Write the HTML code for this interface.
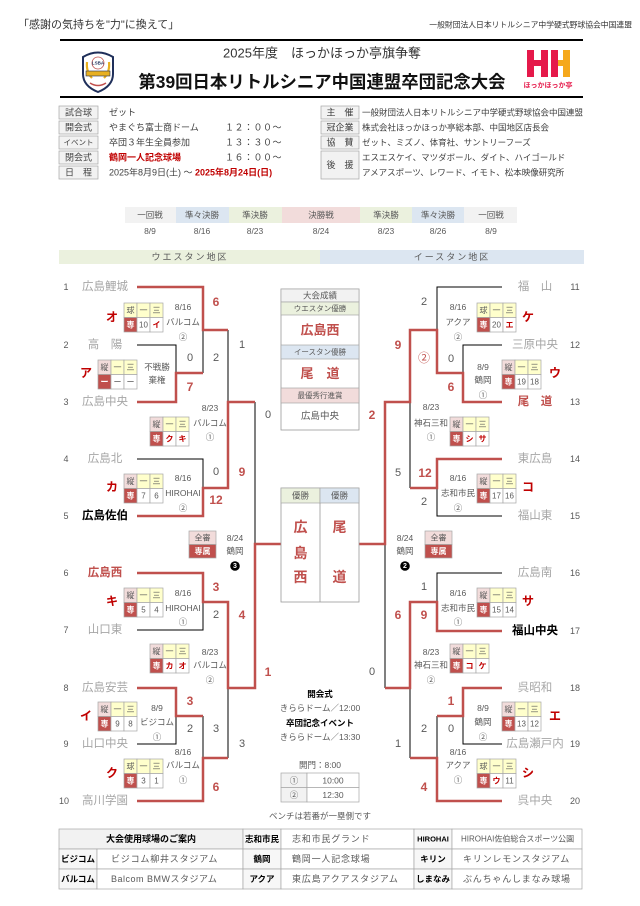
<!DOCTYPE html>
<html><head><meta charset="utf-8">
<style>
html,body{margin:0;padding:0;background:#fff;}
svg{display:block;font-family:"Liberation Sans","Noto Sans CJK JP",sans-serif;}
text{dominant-baseline:central;text-anchor:middle;}
.tm{font-size:11.5px;fill:#a6a6a6}
.tw{font-size:11.5px;fill:#c0504d;font-weight:bold}
.tb{font-size:11.5px;fill:#000;font-weight:bold}
.n{font-size:9px;fill:#595959}
.sr{font-size:12px;fill:#c0504d;font-weight:bold}
.sb{font-size:11px;fill:#595959}
.s{font-size:8.5px;fill:#595959}
.lb{font-size:12px;fill:#c00000;font-weight:bold}
.bx{font-size:8px;fill:#595959}
.bw{font-size:8px;fill:#fff;font-weight:bold}
.br{font-size:8px;fill:#c00000;font-weight:bold}
.r{fill:none;stroke:#c0504d;stroke-width:2.5}
.k{fill:none;stroke:#000;stroke-width:1}
.c{stroke:#a6a6a6;stroke-width:.7}
.y{fill:#ffffcc}
.p{fill:#f2dcdb}
.d{fill:#c0504d}
.w{fill:#fff}
.g{fill:#f2f2f2}
.gr{fill:#ebf1de}
.bl{fill:#dce6f1}
.it{font-size:9px;fill:#404040}
.il{font-size:9px;fill:#404040}
.iv{font-size:8.5px;fill:#404040;text-anchor:start}
.ft{font-size:9px;fill:#595959;text-anchor:start}
.fl{font-size:8.5px;fill:#000;font-weight:bold}
</style></head>
<body>
<svg width="640" height="906" viewBox="0 0 640 906" xmlns="http://www.w3.org/2000/svg">
<!-- Header -->
<text x="18" y="25" style="font-size:11px;fill:#333;text-anchor:start">「感謝の気持ちを"力"に換えて」</text>
<text x="632" y="25" style="font-size:7.8px;fill:#333;text-anchor:end">一般財団法人日本リトルシニア中学硬式野球協会中国連盟</text>
<line x1="60" y1="40" x2="583" y2="40" stroke="#000" stroke-width="2"/>
<text x="322" y="53" style="font-size:13px;fill:#333">2025年度　ほっかほっか亭旗争奪</text>
<text x="322" y="82" style="font-size:17.4px;fill:#111;font-weight:bold">第39回日本リトルシニア中国連盟卒団記念大会</text>
<line x1="60" y1="97" x2="583" y2="97" stroke="#000" stroke-width="2"/>
<!-- left logo -->
<path d="M83 57 Q98 48 113 57 L113 74 Q113 86 98 92 Q83 86 83 74 Z" fill="#fff" stroke="#1f2f5a" stroke-width="2"/>
<circle cx="98" cy="63" r="6" fill="#fff" stroke="#c0504d" stroke-width=".8"/>
<text x="98" y="63" style="font-size:4.5px;fill:#1f2f5a;font-weight:bold">LSBA</text>
<path d="M87 62 Q86 72 92 78 M109 62 Q110 72 104 78" stroke="#e8b020" stroke-width="2.2" fill="none"/>
<rect x="86" y="71" width="24" height="5" fill="#e8b020" stroke="#1f2f5a" stroke-width=".6"/>
<path d="M90 83 Q98 88 106 83" stroke="#c0504d" stroke-width="1.5" fill="none"/>
<!-- right logo -->
<rect x="527" y="50" width="7" height="27" fill="#e5194a"/>
<rect x="541" y="50" width="7" height="27" fill="#e5194a"/>
<rect x="534" y="60" width="7" height="6" fill="#e5194a"/>
<rect x="551" y="50" width="7" height="27" fill="#e5194a"/>
<rect x="563" y="50" width="7" height="27" fill="#f5a81c"/>
<rect x="558" y="60" width="5" height="6" fill="#f5a81c"/>
<text x="548" y="86" style="font-size:7px;fill:#e5194a;font-weight:bold">ほっかほっか亭</text>

<!-- Info table left -->
<g>
<rect x="59" y="106" width="39" height="13" class="g c"/>
<rect x="59" y="121" width="39" height="13" class="g c"/>
<rect x="59" y="136" width="39" height="13" class="g c"/>
<rect x="59" y="151" width="39" height="13" class="g c"/>
<rect x="59" y="166" width="39" height="13" class="g c"/>
<text x="78.5" y="112.5" class="il">試合球</text>
<text x="78.5" y="127.5" class="il">開会式</text>
<text x="78.5" y="142.5" class="il" style="font-size:7.5px">イベント</text>
<text x="78.5" y="157.5" class="il">閉会式</text>
<text x="78.5" y="172.5" class="il">日　程</text>
<text x="109" y="112.5" class="iv" style="font-size:9px">ゼット</text>
<text x="109" y="127.5" class="iv" style="font-size:9px">やまぐち富士商ドーム</text>
<text x="109" y="142.5" class="iv" style="font-size:9px">卒団３年生全員参加</text>
<text x="109" y="157.5" class="iv" style="font-size:9px;fill:#c00000;font-weight:bold">鶴岡一人記念球場</text>
<text x="109" y="172.5" class="iv" style="font-size:9px">2025年8月9日(土) ～ <tspan style="fill:#c00000;font-weight:bold">2025年8月24日(日)</tspan></text>
<text x="225" y="127.5" class="iv" style="font-size:9px;letter-spacing:.5px">１２：００～</text>
<text x="225" y="142.5" class="iv" style="font-size:9px;letter-spacing:.5px">１３：３０～</text>
<text x="225" y="157.5" class="iv" style="font-size:9px;letter-spacing:.5px">１６：００～</text>
</g>
<!-- Info table right -->
<g>
<rect x="321" y="106" width="38" height="13" class="g c"/>
<rect x="321" y="121" width="38" height="13" class="g c"/>
<rect x="321" y="136" width="38" height="13" class="g c"/>
<rect x="321" y="151" width="38" height="28" class="g c"/>
<text x="340" y="112.5" class="il">主　催</text>
<text x="340" y="127.5" class="il">冠企業</text>
<text x="340" y="142.5" class="il">協　賛</text>
<text x="340" y="165" class="il">後　援</text>
<text x="362" y="112.5" class="iv">一般財団法人日本リトルシニア中学硬式野球協会中国連盟</text>
<text x="362" y="127.5" class="iv">株式会社ほっかほっか亭総本部、中国地区店長会</text>
<text x="362" y="142.5" class="iv">ゼット、ミズノ、体育社、サントリーフーズ</text>
<text x="362" y="157.5" class="iv">エスエスケイ、マツダボール、ダイト、ハイゴールド</text>
<text x="362" y="172.5" class="iv">アメアスポーツ、レワード、イモト、松本映像研究所</text>
</g>

<!-- Round header -->
<rect x="125" y="207" width="51" height="16" class="g"/>
<rect x="176" y="207" width="53" height="16" class="bl"/>
<rect x="229" y="207" width="53" height="16" class="gr"/>
<rect x="282" y="207" width="78" height="16" class="p"/>
<rect x="360" y="207" width="52" height="16" class="gr"/>
<rect x="412" y="207" width="52" height="16" class="bl"/>
<rect x="464" y="207" width="53" height="16" class="g"/>
<g style="font-size:8.5px;fill:#595959">
<text x="150" y="215">一回戦</text><text x="202" y="215">準々決勝</text><text x="255" y="215">準決勝</text><text x="321" y="215">決勝戦</text><text x="386" y="215">準決勝</text><text x="438" y="215">準々決勝</text><text x="491" y="215">一回戦</text>
<text x="150" y="231">8/9</text><text x="202" y="231">8/16</text><text x="255" y="231">8/23</text><text x="321" y="231">8/24</text><text x="386" y="231">8/23</text><text x="438" y="231">8/26</text><text x="491" y="231">8/9</text>
</g>
<rect x="59" y="250" width="261" height="14" class="gr"/>
<rect x="320" y="250" width="264" height="14" class="bl"/>
<text x="190" y="257" style="font-size:9px;fill:#595959;letter-spacing:2px">ウエスタン地区</text>
<text x="452" y="257" style="font-size:9px;fill:#595959;letter-spacing:2px">イースタン地区</text>

<!-- Bracket lines black -->
<path class="k" d="M228 330 V402 M137 345 H176 V373 M203 330 V373 M137 459 H203 V488 M255 402 V544 M137 630 H203 V602 M203 716 V758 M137 744 H176 V716 M228 758 V688"/>
<path class="k" d="M502 287 H437 V330 M502 345 H463 V373 M410 488 V402 M502 516 H437 V488 M502 573 H437 V602 M385 688 V544 M437 716 V758 M502 744 H463 V716 M410 758 V688"/>
<!-- Bracket lines red -->
<path class="r" d="M137 287 H203 V330 H228 M137 402 H176 V373 H203 M137 516 H203 V488 H228 V402 H255 M137 573 H203 V602 H228 V688 H255 V544 H281 M137 688 H176 V716 H203 M137 801 H203 V758 H228"/>
<path class="r" d="M502 402 H463 V373 H437 V330 H410 V402 H385 V544 H359 M502 459 H437 V488 H410 M502 631 H437 V602 H410 V688 H385 M502 688 H463 V716 H437 M502 801 H437 V758 H410"/>

<!-- Team numbers & names left -->
<g class="n"><text x="66" y="287">1</text><text x="66" y="345">2</text><text x="66" y="402">3</text><text x="66" y="459">4</text><text x="66" y="516">5</text><text x="66" y="573">6</text><text x="66" y="630">7</text><text x="66" y="688">8</text><text x="66" y="744">9</text><text x="64" y="801">10</text></g>
<text x="105" y="287" class="tm">広島鯉城</text>
<text x="105" y="345" class="tm">高　陽</text>
<text x="105" y="402" class="tm">広島中央</text>
<text x="105" y="459" class="tm">広島北</text>
<text x="105" y="516" class="tb">広島佐伯</text>
<text x="105" y="573" class="tw">広島西</text>
<text x="105" y="630" class="tm">山口東</text>
<text x="105" y="688" class="tm">広島安芸</text>
<text x="105" y="744" class="tm">山口中央</text>
<text x="105" y="801" class="tm">高川学園</text>
<!-- right -->
<g class="n"><text x="575" y="287">11</text><text x="575" y="345">12</text><text x="575" y="402">13</text><text x="575" y="459">14</text><text x="575" y="516">15</text><text x="575" y="573">16</text><text x="575" y="631">17</text><text x="575" y="688">18</text><text x="575" y="744">19</text><text x="575" y="801">20</text></g>
<text x="535" y="287" class="tm">福　山</text>
<text x="535" y="345" class="tm">三原中央</text>
<text x="535" y="402" class="tw">尾　道</text>
<text x="535" y="459" class="tm">東広島</text>
<text x="535" y="516" class="tm">福山東</text>
<text x="535" y="573" class="tm">広島南</text>
<text x="535" y="631" class="tb">福山中央</text>
<text x="535" y="688" class="tm">呉昭和</text>
<text x="535" y="744" class="tm">広島瀬戸内</text>
<text x="535" y="801" class="tm">呉中央</text>

<!-- Scores left -->
<text x="216" y="302" class="sr">6</text>
<text x="190" y="358" class="sb">0</text>
<text x="190" y="387" class="sr">7</text>
<text x="216" y="358" class="sb">2</text>
<text x="242" y="345" class="sb">1</text>
<text x="216" y="472" class="sb">0</text>
<text x="216" y="500" class="sr">12</text>
<text x="242" y="472" class="sr">9</text>
<text x="268" y="415" class="sb">0</text>
<text x="216" y="587" class="sr">3</text>
<text x="216" y="615" class="sb">2</text>
<text x="242" y="615" class="sr">4</text>
<text x="190" y="701" class="sr">3</text>
<text x="190" y="729" class="sb">2</text>
<text x="216" y="729" class="sb">3</text>
<text x="216" y="787" class="sr">6</text>
<text x="242" y="744" class="sb">3</text>
<text x="268" y="672" class="sr">1</text>
<!-- Scores right -->
<text x="424" y="302" class="sb">2</text>
<text x="424" y="358" class="sr" style="font-weight:normal">②</text>
<text x="451" y="359" class="sb">0</text>
<text x="451" y="387" class="sr">6</text>
<text x="398" y="345" class="sr">9</text>
<text x="372" y="415" class="sr">2</text>
<text x="398" y="473" class="sb">5</text>
<text x="425" y="473" class="sr">12</text>
<text x="424" y="502" class="sb">2</text>
<text x="424" y="587" class="sb">1</text>
<text x="424" y="615" class="sr">9</text>
<text x="398" y="615" class="sr">6</text>
<text x="372" y="672" class="sb">0</text>
<text x="451" y="701" class="sr">1</text>
<text x="451" y="729" class="sb">0</text>
<text x="424" y="729" class="sb">2</text>
<text x="398" y="744" class="sb">1</text>
<text x="424" y="787" class="sr">4</text>

<!-- Score boxes -->
<!-- オ -->
<g transform="translate(124,303)">
<rect width="13" height="14.5" class="y c"/><rect x="13" width="13" height="14.5" class="y c"/><rect x="26" width="13" height="14.5" class="y c"/>
<rect y="14.5" width="13" height="14.5" class="d c"/><rect x="13" y="14.5" width="13" height="14.5" class="w c"/><rect x="26" y="14.5" width="13" height="14.5" class="w c"/>
<text x="6.5" y="7.5" class="bx">球</text><text x="19.5" y="7.5" class="bx">一</text><text x="32.5" y="7.5" class="bx">三</text>
<text x="6.5" y="22" class="bw">専</text><text x="19.5" y="22" class="bx">10</text><text x="32.5" y="22" class="br">イ</text>
</g>
<!-- ア -->
<g transform="translate(98,360)">
<rect width="13" height="14.5" class="p c"/><rect x="13" width="13" height="14.5" class="y c"/><rect x="26" width="13" height="14.5" class="y c"/>
<rect y="14.5" width="13" height="14.5" class="d c"/><rect x="13" y="14.5" width="13" height="14.5" class="w c"/><rect x="26" y="14.5" width="13" height="14.5" class="w c"/>
<text x="6.5" y="7.5" class="bx">縦</text><text x="19.5" y="7.5" class="bx">一</text><text x="32.5" y="7.5" class="bx">三</text>
<text x="6.5" y="22" class="bw">ー</text><text x="19.5" y="22" class="bx">ー</text><text x="32.5" y="22" class="bx">ー</text>
</g>
<!-- left center 1 -->
<g transform="translate(150,417)">
<rect width="13" height="14.5" class="p c"/><rect x="13" width="13" height="14.5" class="y c"/><rect x="26" width="13" height="14.5" class="y c"/>
<rect y="14.5" width="13" height="14.5" class="d c"/><rect x="13" y="14.5" width="13" height="14.5" class="w c"/><rect x="26" y="14.5" width="13" height="14.5" class="w c"/>
<text x="6.5" y="7.5" class="bx">縦</text><text x="19.5" y="7.5" class="bx">一</text><text x="32.5" y="7.5" class="bx">三</text>
<text x="6.5" y="22" class="bw">専</text><text x="19.5" y="22" class="br">ク</text><text x="32.5" y="22" class="br">キ</text>
</g>
<!-- カ -->
<g transform="translate(124,474)">
<rect width="13" height="14.5" class="p c"/><rect x="13" width="13" height="14.5" class="y c"/><rect x="26" width="13" height="14.5" class="y c"/>
<rect y="14.5" width="13" height="14.5" class="d c"/><rect x="13" y="14.5" width="13" height="14.5" class="w c"/><rect x="26" y="14.5" width="13" height="14.5" class="w c"/>
<text x="6.5" y="7.5" class="bx">縦</text><text x="19.5" y="7.5" class="bx">一</text><text x="32.5" y="7.5" class="bx">三</text>
<text x="6.5" y="22" class="bw">専</text><text x="19.5" y="22" class="bx">7</text><text x="32.5" y="22" class="bx">6</text>
</g>
<!-- キ -->
<g transform="translate(124,588)">
<rect width="13" height="14.5" class="p c"/><rect x="13" width="13" height="14.5" class="y c"/><rect x="26" width="13" height="14.5" class="y c"/>
<rect y="14.5" width="13" height="14.5" class="d c"/><rect x="13" y="14.5" width="13" height="14.5" class="w c"/><rect x="26" y="14.5" width="13" height="14.5" class="w c"/>
<text x="6.5" y="7.5" class="bx">縦</text><text x="19.5" y="7.5" class="bx">一</text><text x="32.5" y="7.5" class="bx">三</text>
<text x="6.5" y="22" class="bw">専</text><text x="19.5" y="22" class="bx">5</text><text x="32.5" y="22" class="bx">4</text>
</g>
<!-- left center 2 -->
<g transform="translate(150,644)">
<rect width="13" height="14.5" class="p c"/><rect x="13" width="13" height="14.5" class="y c"/><rect x="26" width="13" height="14.5" class="y c"/>
<rect y="14.5" width="13" height="14.5" class="d c"/><rect x="13" y="14.5" width="13" height="14.5" class="w c"/><rect x="26" y="14.5" width="13" height="14.5" class="w c"/>
<text x="6.5" y="7.5" class="bx">縦</text><text x="19.5" y="7.5" class="bx">一</text><text x="32.5" y="7.5" class="bx">三</text>
<text x="6.5" y="22" class="bw">専</text><text x="19.5" y="22" class="br">カ</text><text x="32.5" y="22" class="br">オ</text>
</g>
<!-- イ -->
<g transform="translate(98,702)">
<rect width="13" height="14.5" class="p c"/><rect x="13" width="13" height="14.5" class="y c"/><rect x="26" width="13" height="14.5" class="y c"/>
<rect y="14.5" width="13" height="14.5" class="d c"/><rect x="13" y="14.5" width="13" height="14.5" class="w c"/><rect x="26" y="14.5" width="13" height="14.5" class="w c"/>
<text x="6.5" y="7.5" class="bx">縦</text><text x="19.5" y="7.5" class="bx">一</text><text x="32.5" y="7.5" class="bx">三</text>
<text x="6.5" y="22" class="bw">専</text><text x="19.5" y="22" class="bx">9</text><text x="32.5" y="22" class="bx">8</text>
</g>
<!-- ク -->
<g transform="translate(124,759)">
<rect width="13" height="14.5" class="y c"/><rect x="13" width="13" height="14.5" class="y c"/><rect x="26" width="13" height="14.5" class="y c"/>
<rect y="14.5" width="13" height="14.5" class="d c"/><rect x="13" y="14.5" width="13" height="14.5" class="w c"/><rect x="26" y="14.5" width="13" height="14.5" class="w c"/>
<text x="6.5" y="7.5" class="bx">球</text><text x="19.5" y="7.5" class="bx">一</text><text x="32.5" y="7.5" class="bx">三</text>
<text x="6.5" y="22" class="bw">専</text><text x="19.5" y="22" class="bx">3</text><text x="32.5" y="22" class="bx">1</text>
</g>
<!-- ケ -->
<g transform="translate(477,303)">
<rect width="13" height="14.5" class="y c"/><rect x="13" width="13" height="14.5" class="y c"/><rect x="26" width="13" height="14.5" class="y c"/>
<rect y="14.5" width="13" height="14.5" class="d c"/><rect x="13" y="14.5" width="13" height="14.5" class="w c"/><rect x="26" y="14.5" width="13" height="14.5" class="w c"/>
<text x="6.5" y="7.5" class="bx">球</text><text x="19.5" y="7.5" class="bx">一</text><text x="32.5" y="7.5" class="bx">三</text>
<text x="6.5" y="22" class="bw">専</text><text x="19.5" y="22" class="bx">20</text><text x="32.5" y="22" class="br">エ</text>
</g>
<!-- ウ -->
<g transform="translate(502,360)">
<rect width="13" height="14.5" class="p c"/><rect x="13" width="13" height="14.5" class="y c"/><rect x="26" width="13" height="14.5" class="y c"/>
<rect y="14.5" width="13" height="14.5" class="d c"/><rect x="13" y="14.5" width="13" height="14.5" class="w c"/><rect x="26" y="14.5" width="13" height="14.5" class="w c"/>
<text x="6.5" y="7.5" class="bx">縦</text><text x="19.5" y="7.5" class="bx">一</text><text x="32.5" y="7.5" class="bx">三</text>
<text x="6.5" y="22" class="bw">専</text><text x="19.5" y="22" class="bx">19</text><text x="32.5" y="22" class="bx">18</text>
</g>
<!-- right center 1 -->
<g transform="translate(450,417)">
<rect width="13" height="14.5" class="p c"/><rect x="13" width="13" height="14.5" class="y c"/><rect x="26" width="13" height="14.5" class="y c"/>
<rect y="14.5" width="13" height="14.5" class="d c"/><rect x="13" y="14.5" width="13" height="14.5" class="w c"/><rect x="26" y="14.5" width="13" height="14.5" class="w c"/>
<text x="6.5" y="7.5" class="bx">縦</text><text x="19.5" y="7.5" class="bx">一</text><text x="32.5" y="7.5" class="bx">三</text>
<text x="6.5" y="22" class="bw">専</text><text x="19.5" y="22" class="br">シ</text><text x="32.5" y="22" class="br">サ</text>
</g>
<!-- コ -->
<g transform="translate(477,474)">
<rect width="13" height="14.5" class="p c"/><rect x="13" width="13" height="14.5" class="y c"/><rect x="26" width="13" height="14.5" class="y c"/>
<rect y="14.5" width="13" height="14.5" class="d c"/><rect x="13" y="14.5" width="13" height="14.5" class="w c"/><rect x="26" y="14.5" width="13" height="14.5" class="w c"/>
<text x="6.5" y="7.5" class="bx">縦</text><text x="19.5" y="7.5" class="bx">一</text><text x="32.5" y="7.5" class="bx">三</text>
<text x="6.5" y="22" class="bw">専</text><text x="19.5" y="22" class="bx">17</text><text x="32.5" y="22" class="bx">16</text>
</g>
<!-- サ -->
<g transform="translate(477,588)">
<rect width="13" height="14.5" class="p c"/><rect x="13" width="13" height="14.5" class="y c"/><rect x="26" width="13" height="14.5" class="y c"/>
<rect y="14.5" width="13" height="14.5" class="d c"/><rect x="13" y="14.5" width="13" height="14.5" class="w c"/><rect x="26" y="14.5" width="13" height="14.5" class="w c"/>
<text x="6.5" y="7.5" class="bx">縦</text><text x="19.5" y="7.5" class="bx">一</text><text x="32.5" y="7.5" class="bx">三</text>
<text x="6.5" y="22" class="bw">専</text><text x="19.5" y="22" class="bx">15</text><text x="32.5" y="22" class="bx">14</text>
</g>
<!-- right center 2 -->
<g transform="translate(450,644)">
<rect width="13" height="14.5" class="p c"/><rect x="13" width="13" height="14.5" class="y c"/><rect x="26" width="13" height="14.5" class="y c"/>
<rect y="14.5" width="13" height="14.5" class="d c"/><rect x="13" y="14.5" width="13" height="14.5" class="w c"/><rect x="26" y="14.5" width="13" height="14.5" class="w c"/>
<text x="6.5" y="7.5" class="bx">縦</text><text x="19.5" y="7.5" class="bx">一</text><text x="32.5" y="7.5" class="bx">三</text>
<text x="6.5" y="22" class="bw">専</text><text x="19.5" y="22" class="br">コ</text><text x="32.5" y="22" class="br">ケ</text>
</g>
<!-- エ -->
<g transform="translate(502,702)">
<rect width="13" height="14.5" class="p c"/><rect x="13" width="13" height="14.5" class="y c"/><rect x="26" width="13" height="14.5" class="y c"/>
<rect y="14.5" width="13" height="14.5" class="d c"/><rect x="13" y="14.5" width="13" height="14.5" class="w c"/><rect x="26" y="14.5" width="13" height="14.5" class="w c"/>
<text x="6.5" y="7.5" class="bx">縦</text><text x="19.5" y="7.5" class="bx">一</text><text x="32.5" y="7.5" class="bx">三</text>
<text x="6.5" y="22" class="bw">専</text><text x="19.5" y="22" class="bx">13</text><text x="32.5" y="22" class="bx">12</text>
</g>
<!-- シ -->
<g transform="translate(477,759)">
<rect width="13" height="14.5" class="y c"/><rect x="13" width="13" height="14.5" class="y c"/><rect x="26" width="13" height="14.5" class="y c"/>
<rect y="14.5" width="13" height="14.5" class="d c"/><rect x="13" y="14.5" width="13" height="14.5" class="w c"/><rect x="26" y="14.5" width="13" height="14.5" class="w c"/>
<text x="6.5" y="7.5" class="bx">球</text><text x="19.5" y="7.5" class="bx">一</text><text x="32.5" y="7.5" class="bx">三</text>
<text x="6.5" y="22" class="bw">専</text><text x="19.5" y="22" class="br">ウ</text><text x="32.5" y="22" class="bx">11</text>
</g>

<!-- box labels -->
<text x="112" y="317" class="lb">オ</text>
<text x="86" y="373" class="lb">ア</text>
<text x="112" y="487" class="lb">カ</text>
<text x="112" y="601" class="lb">キ</text>
<text x="86" y="716" class="lb">イ</text>
<text x="112" y="773" class="lb">ク</text>
<text x="528" y="317" class="lb">ケ</text>
<text x="555" y="373" class="lb">ウ</text>
<text x="528" y="487" class="lb">コ</text>
<text x="528" y="601" class="lb">サ</text>
<text x="555" y="716" class="lb">エ</text>
<text x="528" y="773" class="lb">シ</text>

<!-- side texts left -->
<g class="s">
<text x="183" y="307">8/16</text><text x="183" y="322">バルコム</text><text x="183" y="337">②</text>
<text x="157" y="367">不戦勝</text><text x="157" y="380">棄権</text>
<text x="210" y="408">8/23</text><text x="210" y="423">バルコム</text><text x="210" y="437">①</text>
<text x="183" y="478">8/16</text><text x="183" y="493">HIROHAI</text><text x="183" y="508">②</text>
<text x="183" y="593">8/16</text><text x="183" y="608">HIROHAI</text><text x="183" y="622">①</text>
<text x="210" y="652">8/23</text><text x="210" y="665">バルコム</text><text x="210" y="680">②</text>
<text x="157" y="708">8/9</text><text x="157" y="722">ビジコム</text><text x="157" y="737">①</text>
<text x="183" y="752">8/16</text><text x="183" y="765">バルコム</text><text x="183" y="780">①</text>
<text x="235" y="538">8/24</text><text x="235" y="551">鶴岡</text>
<!-- right -->
<text x="458" y="307">8/16</text><text x="458" y="322">アクア</text><text x="458" y="337">②</text>
<text x="483" y="367">8/9</text><text x="483" y="380">鶴岡</text><text x="483" y="395">①</text>
<text x="431" y="407">8/23</text><text x="431" y="423">神石三和</text><text x="431" y="437">①</text>
<text x="458" y="478">8/16</text><text x="458" y="493">志和市民</text><text x="458" y="508">②</text>
<text x="458" y="593">8/16</text><text x="458" y="608">志和市民</text><text x="458" y="622">①</text>
<text x="431" y="652">8/23</text><text x="431" y="665">神石三和</text><text x="431" y="680">②</text>
<text x="483" y="708">8/9</text><text x="483" y="722">鶴岡</text><text x="483" y="737">②</text>
<text x="458" y="752">8/16</text><text x="458" y="765">アクア</text><text x="458" y="780">①</text>
<text x="405" y="538">8/24</text><text x="405" y="551">鶴岡</text>
</g>
<circle cx="235" cy="566" r="4.8" fill="#000"/><text x="235" y="566.5" style="font-size:7px;fill:#fff;font-weight:bold">3</text>
<circle cx="405" cy="566" r="4.8" fill="#000"/><text x="405" y="566.5" style="font-size:7px;fill:#fff;font-weight:bold">2</text>

<!-- 全審/専属 boxes -->
<rect x="189" y="531" width="27" height="13.5" class="p c"/>
<rect x="189" y="544.5" width="27" height="13.5" class="d c"/>
<text x="202.5" y="538" class="bx">全審</text><text x="202.5" y="551.5" class="bw">専属</text>
<rect x="425" y="531" width="27" height="13.5" class="p c"/>
<rect x="425" y="544.5" width="27" height="13.5" class="d c"/>
<text x="438.5" y="538" class="bx">全審</text><text x="438.5" y="551.5" class="bw">専属</text>

<!-- Results box -->
<g>
<rect x="281" y="289" width="78" height="141" fill="#fff" stroke="#999" stroke-width=".8"/>
<rect x="281" y="289" width="78" height="13" class="g c"/>
<rect x="281" y="302" width="78" height="13" class="gr c"/>
<rect x="281" y="345" width="78" height="14" class="bl c"/>
<rect x="281" y="388" width="78" height="15" class="p c"/>
<text x="320" y="295.5" style="font-size:8.5px;fill:#595959">大会成績</text>
<text x="320" y="308.5" style="font-size:7.5px;fill:#595959">ウエスタン優勝</text>
<text x="320" y="330" style="font-size:13px;fill:#c0504d;font-weight:bold">広島西</text>
<text x="320" y="352" style="font-size:7.5px;fill:#595959">イースタン優勝</text>
<text x="320" y="373.5" style="font-size:13px;fill:#c0504d;font-weight:bold">尾　道</text>
<text x="320" y="395.5" style="font-size:7.5px;fill:#595959">最優秀行進賞</text>
<text x="320" y="416.5" style="font-size:9.5px;fill:#595959">広島中央</text>
</g>
<!-- Final box -->
<g>
<rect x="281" y="488" width="78" height="114" fill="#fff" stroke="#999" stroke-width=".8"/>
<rect x="281" y="488" width="39" height="15" class="gr c"/>
<rect x="320" y="488" width="39" height="15" class="bl c"/>
<line x1="320" y1="503" x2="320" y2="602" stroke="#999" stroke-width=".8"/>
<text x="300.5" y="495.5" style="font-size:8.5px;fill:#595959">優勝</text>
<text x="339.5" y="495.5" style="font-size:8.5px;fill:#595959">優勝</text>
<g style="font-size:14px;fill:#c0504d;font-weight:bold">
<text x="300.5" y="527">広</text><text x="300.5" y="553">島</text><text x="300.5" y="577">西</text>
<text x="339.5" y="527">尾</text><text x="339.5" y="577">道</text>
</g>
</g>

<!-- Center info -->
<text x="320" y="694" style="font-size:8.5px;fill:#000;font-weight:bold">開会式</text>
<text x="320" y="708" style="font-size:8.5px;fill:#595959">きららドーム／12:00</text>
<text x="320" y="723" style="font-size:8.5px;fill:#000;font-weight:bold">卒団記念イベント</text>
<text x="320" y="737" style="font-size:8.5px;fill:#595959">きららドーム／13:30</text>
<text x="320" y="765" style="font-size:8.5px;fill:#595959">開門：8:00</text>
<rect x="281" y="773" width="26" height="14.5" class="g c"/>
<rect x="281" y="787.5" width="26" height="14.5" class="g c"/>
<rect x="307" y="773" width="52" height="14.5" class="w c"/>
<rect x="307" y="787.5" width="52" height="14.5" class="w c"/>
<g style="font-size:8.5px;fill:#595959">
<text x="294" y="780.5">①</text><text x="294" y="795">②</text>
<text x="333" y="780.5">10:00</text><text x="333" y="795">12:30</text>
</g>
<text x="320" y="816" style="font-size:8.5px;fill:#595959">ベンチは若番が一塁側です</text>

<!-- Bottom table -->
<g>
<rect x="59" y="829" width="184" height="20" class="g c"/>
<rect x="243" y="829" width="38" height="20" fill="#f7f7f7" class="c"/>
<rect x="281" y="829" width="133" height="20" class="w c"/>
<rect x="414" y="829" width="38" height="20" fill="#f7f7f7" class="c"/>
<rect x="452" y="829" width="130" height="20" class="w c"/>
<rect x="59" y="849" width="38" height="20" fill="#f7f7f7" class="c"/>
<rect x="97" y="849" width="146" height="20" class="w c"/>
<rect x="243" y="849" width="38" height="20" fill="#f7f7f7" class="c"/>
<rect x="281" y="849" width="133" height="20" class="w c"/>
<rect x="414" y="849" width="38" height="20" fill="#f7f7f7" class="c"/>
<rect x="452" y="849" width="130" height="20" class="w c"/>
<rect x="59" y="869" width="38" height="20" fill="#f7f7f7" class="c"/>
<rect x="97" y="869" width="146" height="20" class="w c"/>
<rect x="243" y="869" width="38" height="20" fill="#f7f7f7" class="c"/>
<rect x="281" y="869" width="133" height="20" class="w c"/>
<rect x="414" y="869" width="38" height="20" fill="#f7f7f7" class="c"/>
<rect x="452" y="869" width="130" height="20" class="w c"/>
<text x="151" y="839" style="font-size:9px;fill:#000;font-weight:bold">大会使用球場のご案内</text>
<text x="262" y="839" class="fl">志和市民</text>
<text x="292" y="839" class="ft" style="letter-spacing:.8px">志和市民グランド</text>
<text x="433" y="839" class="fl" style="font-size:7.5px">HIROHAI</text>
<text x="461" y="839" class="ft" style="font-size:8px">HIROHAI佐伯総合スポーツ公園</text>
<text x="78" y="859" class="fl">ビジコム</text>
<text x="111" y="859" class="ft" style="letter-spacing:.8px">ビジコム柳井スタジアム</text>
<text x="262" y="859" class="fl">鶴岡</text>
<text x="292" y="859" class="ft" style="letter-spacing:.8px">鶴岡一人記念球場</text>
<text x="433" y="859" class="fl">キリン</text>
<text x="463" y="859" class="ft" style="letter-spacing:.8px">キリンレモンスタジアム</text>
<text x="78" y="879" class="fl">バルコム</text>
<text x="111" y="879" class="ft" style="letter-spacing:.5px">Balcom BMWスタジアム</text>
<text x="262" y="879" class="fl">アクア</text>
<text x="292" y="879" class="ft" style="letter-spacing:.8px">東広島アクアスタジアム</text>
<text x="433" y="879" class="fl">しまなみ</text>
<text x="463" y="879" class="ft" style="letter-spacing:.8px">ぶんちゃんしまなみ球場</text>
</g>
</svg>
</body></html>
